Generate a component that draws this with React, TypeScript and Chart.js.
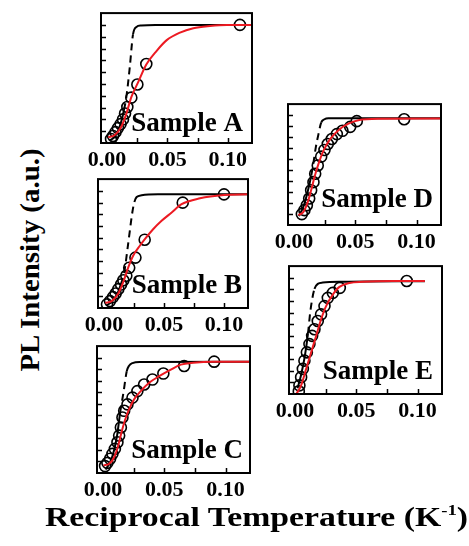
import React, { useEffect, useRef } from "react";
import { Chart, registerables } from "chart.js";

Chart.register(...registerables);

const FONT = '"Liberation Serif", "Times New Roman", serif';

// ---- axis definitions ----
const xMin = -0.005;
const xMax = 0.12;
const yMin = 0;
const yMax = 1.1;
const xTickMarks = [0.025, 0.05, 0.075, 0.1];
const xTickLabels = [0.0, 0.05, 0.1];
const yTickMarks = [0.1, 0.2, 0.3, 0.4, 0.5, 0.6, 0.7, 0.8, 0.9, 1.0];

const sampleNames = ["Sample A", "Sample B", "Sample C", "Sample D", "Sample E"];

// ---- data (x = 1/T, y = normalised PL intensity) ----
const circlesA = [[0.0033, 0.034], [0.005, 0.059], [0.007, 0.092], [0.009, 0.126], [0.0112, 0.16], [0.0132, 0.2], [0.0149, 0.25], [0.0168, 0.305], [0.0201, 0.384], [0.0251, 0.495], [0.0325, 0.669], [0.11, 1.0]];
const redA = [[0.001, 0.048], [0.0064, 0.067], [0.0118, 0.137], [0.016, 0.249], [0.0201, 0.389], [0.0251, 0.5], [0.0325, 0.665], [0.0411, 0.781], [0.0494, 0.871], [0.0604, 0.935], [0.0714, 0.972], [0.0852, 0.991], [0.099, 1.0], [0.12, 1.0]];
const blackA = [[0.002, 0.02], [0.006, 0.05], [0.009, 0.1], [0.012, 0.19], [0.014, 0.28], [0.016, 0.39], [0.0188, 0.64], [0.0215, 0.92], [0.0243, 0.983], [0.0284, 0.995], [0.04, 1.0], [0.12, 1.0]];

const circlesB = [[0.0025, 0.031], [0.005, 0.059], [0.0075, 0.093], [0.0097, 0.124], [0.0119, 0.161], [0.0142, 0.2], [0.0161, 0.237], [0.0186, 0.275], [0.021, 0.343], [0.0262, 0.43], [0.0339, 0.583], [0.0656, 0.899], [0.1, 0.97]];
const redB = [[0.001, 0.045], [0.0064, 0.059], [0.0119, 0.124], [0.0161, 0.223], [0.0203, 0.349], [0.0244, 0.448], [0.03, 0.533], [0.0342, 0.59], [0.0411, 0.674], [0.048, 0.744], [0.0564, 0.815], [0.0647, 0.886], [0.08, 0.936], [0.1, 0.964], [0.12, 0.97]];
const blackB = [[0.002, 0.02], [0.007, 0.06], [0.011, 0.12], [0.014, 0.2], [0.0169, 0.307], [0.0203, 0.561], [0.0236, 0.815], [0.0253, 0.905], [0.0272, 0.947], [0.0314, 0.962], [0.045, 0.97], [0.12, 0.97]];

const circlesC = [[0.0016, 0.06], [0.0035, 0.088], [0.0057, 0.123], [0.0076, 0.166], [0.0096, 0.209], [0.0117, 0.266], [0.0131, 0.324], [0.0145, 0.395], [0.0158, 0.481], [0.0172, 0.539], [0.0199, 0.595], [0.024, 0.653], [0.028, 0.71], [0.0335, 0.767], [0.0403, 0.81], [0.0492, 0.862], [0.0662, 0.928], [0.0907, 0.965]];
const redC = [[0.0003, 0.066], [0.005, 0.08], [0.009, 0.137], [0.0123, 0.237], [0.015, 0.352], [0.0177, 0.453], [0.0212, 0.552], [0.0253, 0.638], [0.0308, 0.71], [0.0376, 0.782], [0.0458, 0.839], [0.0553, 0.896], [0.0635, 0.939], [0.0738, 0.956], [0.09, 0.965], [0.12, 0.965]];
const blackC = [[0.002, 0.03], [0.006, 0.1], [0.009, 0.2], [0.0115, 0.33], [0.0139, 0.524], [0.0166, 0.696], [0.0193, 0.882], [0.0212, 0.93], [0.024, 0.953], [0.03, 0.962], [0.12, 0.965]];

const circlesD = [[0.0063, 0.099], [0.0084, 0.135], [0.0104, 0.18], [0.0123, 0.241], [0.0139, 0.316], [0.0158, 0.39], [0.0172, 0.466], [0.0193, 0.541], [0.0221, 0.622], [0.0248, 0.683], [0.0275, 0.737], [0.0308, 0.782], [0.0349, 0.827], [0.0395, 0.857], [0.0458, 0.893], [0.0512, 0.945], [0.0899, 0.962]];
const redD = [[0.0035, 0.09], [0.0076, 0.12], [0.0112, 0.21], [0.0139, 0.316], [0.0166, 0.435], [0.0199, 0.556], [0.024, 0.676], [0.0294, 0.782], [0.0362, 0.863], [0.0444, 0.922], [0.0525, 0.953], [0.07, 0.966], [0.12, 0.968]];
const blackD = [[0.004, 0.08], [0.008, 0.18], [0.011, 0.3], [0.014, 0.45], [0.016, 0.58], [0.0177, 0.706], [0.0199, 0.827], [0.0221, 0.931], [0.0248, 0.962], [0.028, 0.971], [0.12, 0.972]];

const circlesE = [[0.003, 0.023], [0.0035, 0.074], [0.0049, 0.145], [0.0063, 0.216], [0.0076, 0.287], [0.0096, 0.358], [0.0117, 0.429], [0.0139, 0.5], [0.0158, 0.557], [0.0185, 0.628], [0.0212, 0.685], [0.024, 0.756], [0.0267, 0.827], [0.0308, 0.87], [0.0365, 0.913], [0.0912, 0.972]];
const redE = [[0.001, 0.0], [0.0049, 0.074], [0.009, 0.216], [0.0131, 0.358], [0.0172, 0.5], [0.0212, 0.642], [0.0253, 0.756], [0.0308, 0.855], [0.0362, 0.921], [0.0444, 0.955], [0.0553, 0.965], [0.08, 0.972], [0.106, 0.972]];
const blackE = [[0.002, 0.05], [0.005, 0.17], [0.008, 0.33], [0.0105, 0.52], [0.0123, 0.699], [0.0139, 0.813], [0.0158, 0.904], [0.0185, 0.947], [0.0226, 0.958], [0.04, 0.965], [0.106, 0.97]];

// x-range where the black model curve is dashed
const dashA = [0.013, 0.022];
const dashB = [0.014, 0.0255];
const dashC = [0.012, 0.0195];
const dashD = [0.014, 0.0222];
const dashE = [0.0095, 0.016];

// ---- layout of the five panels (plot-box position on page) ----
const panels = [
  { name: sampleNames[0], circles: circlesA, red: redA, black: blackA, dash: dashA, box: { left: 101, top: 12, w: 151, h: 131 }, lab: { dx: 9, dy: 12 } },
  { name: sampleNames[1], circles: circlesB, red: redB, black: blackB, dash: dashB, box: { left: 98, top: 178, w: 150, h: 130 }, lab: { dx: 6, dy: 15 } },
  { name: sampleNames[2], circles: circlesC, red: redC, black: blackC, dash: dashC, box: { left: 97, top: 345, w: 153, h: 128 }, lab: { dx: 7, dy: 15 } },
  { name: sampleNames[3], circles: circlesD, red: redD, black: blackD, dash: dashD, box: { left: 288, top: 103, w: 153, h: 122 }, lab: { dx: 8, dy: 18 } },
  { name: sampleNames[4], circles: circlesE, red: redE, black: blackE, dash: dashE, box: { left: 289, top: 265, w: 153, h: 129 }, lab: { dx: 9, dy: 15 } },
];

const PAD = { left: 30, right: 30, top: 6, bottom: 40 };

const toXY = (arr: number[][]) => arr.map(([x, y]) => ({ x, y }));

const framePlugin = {
  id: "frame",
  afterDatasetsDraw(chart: any, _args: any, opts: any) {
    const { ctx, chartArea: a } = chart;
    const x = chart.scales.x;
    const y = chart.scales.y;
    ctx.save();
    ctx.strokeStyle = "#000";
    ctx.lineWidth = 2;
    ctx.strokeRect(a.left, a.top, a.right - a.left, a.bottom - a.top);
    ctx.lineWidth = 1.5;
    ctx.beginPath();
    xTickMarks.forEach((v) => {
      const px = Math.round(x.getPixelForValue(v)) + 0.5;
      ctx.moveTo(px, a.bottom);
      ctx.lineTo(px, a.bottom - 5);
    });
    yTickMarks.forEach((v) => {
      const py = Math.round(y.getPixelForValue(v)) + 0.5;
      ctx.moveTo(a.left, py);
      ctx.lineTo(a.left + 5, py);
    });
    ctx.stroke();
    ctx.fillStyle = "#000";
    ctx.font = `bold 22px ${FONT}`;
    ctx.textAlign = "center";
    ctx.textBaseline = "alphabetic";
    xTickLabels.forEach((v) => {
      ctx.fillText(v.toFixed(2), x.getPixelForValue(v), a.bottom + 23);
    });
    ctx.font = `bold 27px ${FONT}`;
    ctx.textAlign = "right";
    ctx.fillText(opts.label, a.right - opts.dx, a.bottom - opts.dy);
    ctx.restore();
  },
};

function Panel({ p }: { p: any }) {
  const ref = useRef<HTMLCanvasElement | null>(null);
  const cw = p.box.w + PAD.left + PAD.right;
  const ch = p.box.h + PAD.top + PAD.bottom;
  useEffect(() => {
    if (!ref.current) return;
    const [lo, hi] = p.dash;
    const chart = new Chart(ref.current, {
      type: "scatter",
      data: {
        datasets: [
          {
            label: "fit",
            data: toXY(p.red),
            showLine: true,
            borderColor: "#ec1a22",
            borderWidth: 2,
            pointRadius: 0,
            cubicInterpolationMode: "monotone",
            order: 0,
          } as any,
          {
            label: "data",
            data: toXY(p.circles),
            showLine: false,
            pointStyle: "circle",
            pointRadius: 5.5,
            pointBorderWidth: 1.6,
            pointBorderColor: "#000",
            pointBackgroundColor: "rgba(0,0,0,0)",
            order: 1,
          } as any,
          {
            label: "model",
            data: toXY(p.black),
            showLine: true,
            borderColor: "#000",
            borderWidth: 2,
            pointRadius: 0,
            cubicInterpolationMode: "monotone",
            segment: {
              borderDash: (c: any) => (c.p0.parsed.x >= lo && c.p1.parsed.x <= hi ? [7, 5] : undefined),
            },
            order: 2,
          } as any,
        ],
      },
      options: {
        responsive: false,
        animation: false,
        devicePixelRatio: 1,
        layout: { padding: PAD },
        scales: {
          x: { type: "linear", min: xMin, max: xMax, display: false },
          y: { type: "linear", min: yMin, max: yMax, display: false },
        },
        plugins: {
          legend: { display: false },
          tooltip: { enabled: false },
          frame: { label: p.name, dx: p.lab.dx, dy: p.lab.dy },
        } as any,
      },
      plugins: [framePlugin],
    });
    return () => chart.destroy();
  }, []);
  return (
    <canvas
      ref={ref}
      width={cw}
      height={ch}
      style={{ position: "absolute", left: p.box.left - PAD.left, top: p.box.top - PAD.top, width: cw, height: ch }}
    />
  );
}

export default function App() {
  return (
    <div style={{ position: "absolute", left: 0, top: 0, width: 469, height: 546, background: "#fff", overflow: "hidden" }}>
      {panels.map((p) => (
        <Panel key={p.name} p={p} />
      ))}
      <div style={{ position: "absolute", left: 30, top: 260, width: 0, height: 0 }}>
        <div
          style={{
            position: "absolute",
            left: 0,
            top: 0,
            transform: "translate(-50%, -50%) rotate(-90deg) scaleX(1.07)",
            whiteSpace: "nowrap",
            font: `bold 27px ${FONT}`,
            lineHeight: "30px",
          }}
        >
          PL Intensity (a.u.)
        </div>
      </div>
      <div
        style={{
          position: "absolute",
          left: 45,
          top: 500,
          whiteSpace: "nowrap",
          font: `bold 27px ${FONT}`,
          lineHeight: "34px",
          transform: "scaleX(1.25)",
          transformOrigin: "0 0",
        }}
      >
        Reciprocal Temperature (K
        <span style={{ fontSize: 15, position: "relative", top: -11 }}>-1</span>)
      </div>
    </div>
  );
}
